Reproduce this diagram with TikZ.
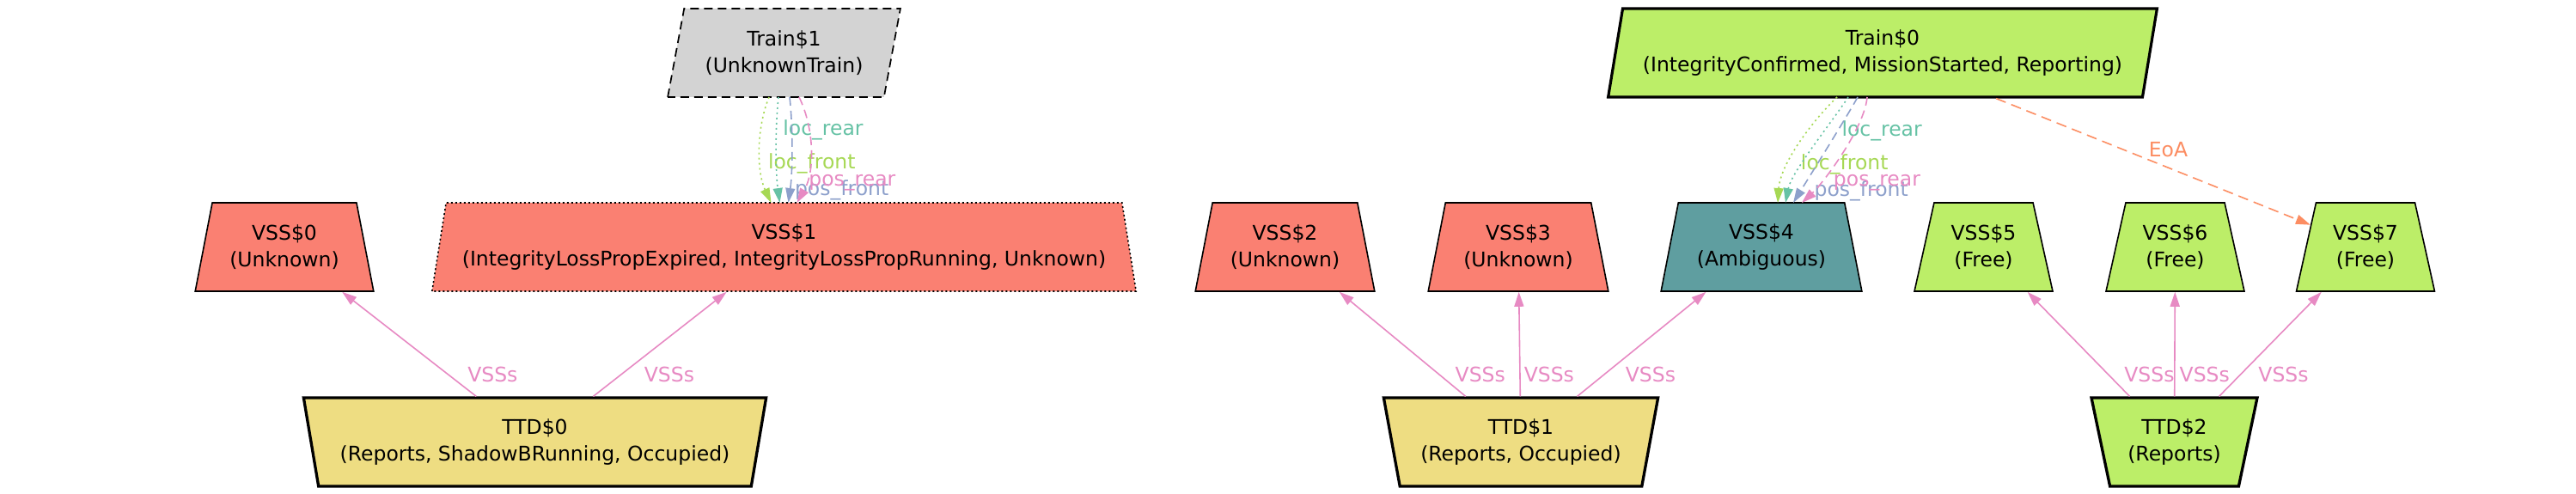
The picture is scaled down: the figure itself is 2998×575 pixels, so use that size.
\documentclass[tikz,border=0pt]{standalone}
\usepackage{fontspec}
\setmainfont{DejaVu Sans}
\usepackage{xcolor}
\usepackage{tikz}
\usetikzlibrary{arrows.meta,shapes.geometric}
\definecolor{salmao}{HTML}{FA8072}
\definecolor{verdeNo}{HTML}{BCEE68}
\definecolor{amarelo}{HTML}{EEDD82}
\definecolor{ciano}{HTML}{5F9EA0}
\definecolor{cinza}{HTML}{D3D3D3}
\definecolor{linhaVerde}{HTML}{A6D854}
\definecolor{linhaTeal}{HTML}{66C2A5}
\definecolor{linhaAzul}{HTML}{8DA0CB}
\definecolor{linhaRosa}{HTML}{E78AC3}
\definecolor{linhaLaranja}{HTML}{FC8D62}
\tikzset{
    forma/.style={
        trapezium,
        draw,
        align=center,
        inner sep=0pt,
        trapezium stretches=true,
        trapezium left angle=73.8,
        trapezium right angle=73.8,
        minimum height=103pt
    },
    secao/.style={forma, line width=1.6pt},
    trecho/.style={forma, shape border rotate=180, fill=amarelo, line width=3.3pt},
    trem/.style={forma, trapezium right angle=106.2},
    ligacao/.style={-{Triangle[length=17pt,width=11pt]}, line width=1.6pt},
    rotulo/.style={inner sep=0pt, anchor=west},
    pontilhado/.style={dash pattern=on 2pt off 4pt},
    tracejado/.style={dash pattern=on 10pt off 6pt}
}

\begin{document}
\begin{tikzpicture}[
        x=1pt, y=-1pt,
        every node/.style={font=\fontsize{23.5}{31}\selectfont}
    ]
    \useasboundingbox (0,0) rectangle (2998,575);

    % trens
    \node[trem, fill=cinza, line width=1.7pt, tracejado, minimum width=271pt] (trem1) at (912.5,61.5) {Train\$1\\(UnknownTrain)};
    \node[trem, fill=verdeNo, line width=3.2pt, minimum width=640pt] (trem0) at (2191,61.5) {Train\$0\\(IntegrityConfirmed, MissionStarted, Reporting)};

    % secoes VSS
    \node[secao, fill=salmao, minimum width=208pt] (vss0) at (331,287.5) {VSS\$0\\(Unknown)};
    \node[secao, fill=salmao, minimum width=829pt, dash pattern=on 2pt off 3pt] (vss1) at (912.5,287.5) {VSS\$1\\(IntegrityLossPropExpired, IntegrityLossPropRunning, Unknown)};
    \node[secao, fill=salmao, minimum width=209pt] (vss2) at (1495.5,287.5) {VSS\$2\\(Unknown)};
    \node[secao, fill=salmao, minimum width=210pt] (vss3) at (1767,287.5) {VSS\$3\\(Unknown)};
    \node[secao, fill=ciano, minimum width=234pt] (vss4) at (2050,287.5) {VSS\$4\\(Ambiguous)};
    \node[secao, fill=verdeNo, minimum width=161pt] (vss5) at (2308.5,287.5) {VSS\$5\\(Free)};
    \node[secao, fill=verdeNo, minimum width=161pt] (vss6) at (2531.5,287.5) {VSS\$6\\(Free)};
    \node[secao, fill=verdeNo, minimum width=161pt] (vss7) at (2753,287.5) {VSS\$7\\(Free)};

    % trechos TTD
    \node[trecho, minimum width=539pt] (ttd0) at (622.5,514.5) {TTD\$0\\(Reports, ShadowBRunning, Occupied)};
    \node[trecho, minimum width=320pt] (ttd1) at (1770,514.5) {TTD\$1\\(Reports, Occupied)};
    \node[trecho, fill=verdeNo, minimum width=193pt] (ttd2) at (2530.5,514.5) {TTD\$2\\(Reports)};

    % TTD -> VSS
    \draw[ligacao, linhaRosa] (ttd0) -- node[rotulo, pos=0.21, xshift=22pt] {VSSs} (vss0);
    \draw[ligacao, linhaRosa] (ttd0) -- node[rotulo, pos=0.21, xshift=26pt] {VSSs} (vss1);
    \draw[ligacao, linhaRosa] (ttd1) -- node[rotulo, pos=0.21, xshift=18pt] {VSSs} (vss2);
    \draw[ligacao, linhaRosa] (ttd1) -- node[rotulo, pos=0.21, xshift=4pt] {VSSs} (vss3);
    \draw[ligacao, linhaRosa] (ttd1) -- node[rotulo, pos=0.21, xshift=24pt] {VSSs} (vss4);
    \draw[ligacao, linhaRosa] (ttd2) -- node[rotulo, pos=0.21, xshift=18pt] {VSSs} (vss5);
    \draw[ligacao, linhaRosa] (ttd2) -- node[rotulo, pos=0.21, xshift=5pt] {VSSs} (vss6);
    \draw[ligacao, linhaRosa] (ttd2) -- node[rotulo, pos=0.21, xshift=20pt] {VSSs} (vss7);

    % Train$1 -> VSS$1
    \draw[ligacao, linhaVerde, pontilhado] ([xshift=-17.5pt,yshift=-51.5pt]trem1.center) .. controls +(-15,37) and +(-17,-36) .. node[rotulo, pos=0.62, xshift=8pt] {loc\_front} ([xshift=-15pt,yshift=51.5pt]vss1.center);
    \draw[ligacao, linhaTeal, pontilhado] ([xshift=-6.5pt,yshift=-51.5pt]trem1.center) .. controls +(-4,37) and +(-5,-36) .. node[rotulo, pos=0.32, xshift=7pt] {loc\_rear} ([xshift=-5pt,yshift=51.5pt]vss1.center);
    \draw[ligacao, linhaAzul, tracejado] ([xshift=6.5pt,yshift=-51.5pt]trem1.center) .. controls +(4,37) and +(5,-36) .. node[rotulo, pos=0.87, xshift=5pt] {pos\_front} ([xshift=5pt,yshift=51.5pt]vss1.center);
    \draw[ligacao, linhaRosa, tracejado] ([xshift=17.5pt,yshift=-51.5pt]trem1.center) .. controls +(18,37) and +(21,-36) .. node[rotulo, pos=0.8, xshift=3pt] {pos\_rear} ([xshift=15pt,yshift=51.5pt]vss1.center);

    % Train$0 -> VSS$4 / VSS$7
    \draw[ligacao, linhaVerde, pontilhado] ([xshift=-53pt,yshift=-51.5pt]trem0.center) .. controls +(-28,27) and +(3,-46) .. node[rotulo, pos=0.68, xshift=14pt] {loc\_front} ([xshift=19pt,yshift=51.5pt]vss4.center);
    \draw[ligacao, linhaTeal, pontilhado] ([xshift=-40pt,yshift=-51.5pt]trem0.center) .. controls +(-21,32) and +(7,-36) .. node[rotulo, pos=0.34, xshift=19pt] {loc\_rear} ([xshift=28pt,yshift=51.5pt]vss4.center);
    \draw[ligacao, linhaAzul, tracejado] ([xshift=-29pt,yshift=-51.5pt]trem0.center) .. controls +(-12,22) and +(13,-21) .. node[rotulo, pos=0.84, xshift=15pt] {pos\_front} ([xshift=37pt,yshift=51.5pt]vss4.center);
    \draw[ligacao, linhaRosa, tracejado] ([xshift=-18pt,yshift=-51.5pt]trem0.center) .. controls +(-3,37) and +(23,-21) .. node[rotulo, pos=0.75, xshift=15pt] {pos\_rear} ([xshift=47pt,yshift=51.5pt]vss4.center);
    \draw[ligacao, linhaLaranja, dash pattern=on 12pt off 7pt] (trem0) -- node[rotulo, midway, anchor=south west, xshift=-6pt, yshift=4.5pt] {EoA} (vss7);
\end{tikzpicture}
\end{document}
